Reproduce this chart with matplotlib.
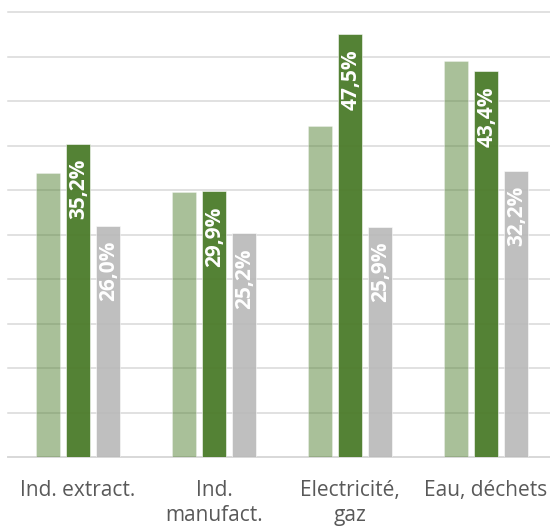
import matplotlib
matplotlib.use("Agg")
import matplotlib.pyplot as plt
import numpy as np

categories = ["Ind. extract.", "Ind.\nmanufact.", "Electricité,\ngaz", "Eau, déchets"]
series_light = [31.9, 29.8, 37.2, 44.5]
series_dark = [35.2, 29.9, 47.5, 43.4]
series_grey = [26.0, 25.2, 25.9, 32.2]

W, H = 550, 530
fig = plt.figure(figsize=(W / 100, H / 100), dpi=100)
ax = fig.add_axes([8 / W, (H - 457.3) / H, 542 / W, (457.3 - 12) / H])

x = np.arange(len(categories))
bw = 0.176
step = 0.22

ax.bar(x - step, series_light, width=bw, color="#548235", alpha=0.5, zorder=3,
       edgecolor="white", linewidth=0.4)
ax.bar(x, series_dark, width=bw, color="#4B7B2A", alpha=0.95, zorder=3,
       edgecolor="white", linewidth=0.4)
ax.bar(x + step, series_grey, width=bw, color="#B8B8B8", alpha=0.9, zorder=3,
       edgecolor="white", linewidth=0.4)

def fmt(v):
    return f"{v:.1f}".replace(".", ",") + "%"

for xs, vals in ((x, series_dark), (x + step, series_grey)):
    for xi, v in zip(xs, vals):
        ax.annotate(fmt(v), xy=(xi, v), xytext=(0.8, -11), textcoords="offset points",
                    rotation=90, ha="center", va="top", color="white",
                    fontweight="bold", fontsize=15, family="Open Sans", zorder=5)

ax.set_xlim(-0.515, 3.47)
ax.set_ylim(0, 50)
ax.set_yticks(np.arange(0, 51, 5))
ax.yaxis.grid(True, color="#D9D9D9", linewidth=1.1, zorder=0)
for ln in ax.get_ygridlines():
    ln.set_clip_on(False)
ax.set_axisbelow(True)
ax.tick_params(axis="y", left=False, labelleft=False)
ax.set_xticks(x)
ax.set_xticklabels(categories, fontsize=15, family="Open Sans", color="#595959",
                   linespacing=1.3)
ax.tick_params(axis="x", length=0, pad=16)
for s in ("top", "right", "left"):
    ax.spines[s].set_visible(False)
ax.spines["bottom"].set_color("#D9D9D9")
ax.spines["bottom"].set_linewidth(1.3)

fig.savefig("out.png", dpi=100)
